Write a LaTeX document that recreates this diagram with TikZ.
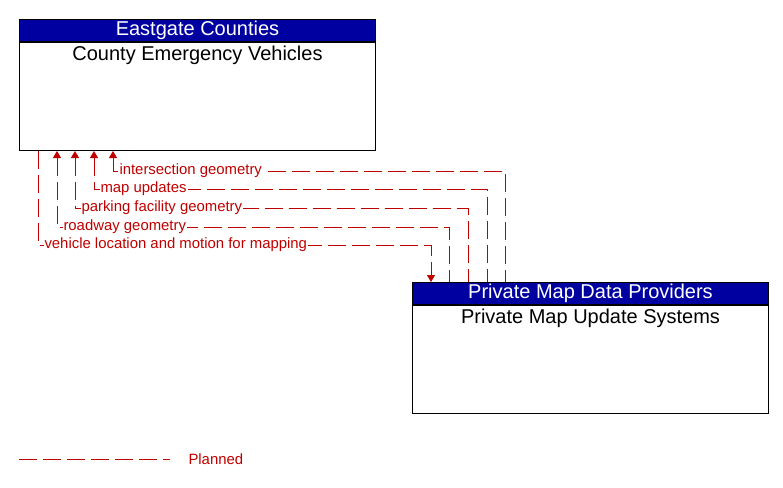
\documentclass[tikz,border=0pt]{standalone}
\usepackage{fontspec}
\setmainfont{Liberation Sans}
\usepackage{tikz}
\usetikzlibrary{calc,positioning,arrows.meta}
\definecolor{flowred}{RGB}{192,0,0}
\definecolor{headblue}{RGB}{0,0,160}
\tikzset{
  header/.style={rectangle,draw=black,line width=1pt,fill=headblue,text=white,minimum width=356pt,minimum height=22pt,inner sep=0pt,font=\fontsize{20}{22}\selectfont},
  bodybox/.style={rectangle,draw=black,line width=1pt,minimum width=356pt,minimum height=108pt,inner sep=0pt},
  title/.style={inner sep=0pt,font=\fontsize{20}{22}\selectfont},
  flow/.style={draw=flowred,line width=1pt,dash pattern=on 18pt off 6pt,>={Triangle[length=7pt,width=8pt]}},
  lbl/.style={anchor=west,xshift=5pt,fill=white,inner sep=1pt,text=flowred,font=\fontsize{14.9}{16}\selectfont}
}
\begin{document}
\begin{tikzpicture}[x=1pt,y=-1pt]
\useasboundingbox (0,0) rectangle (783,487);
% top element
\node (cevhead) [header,anchor=north west] at (19,19) {Eastgate Counties};
\node (cev) [bodybox,below=0pt of cevhead] {};
\node (cevname) [title,below=4pt of cev.north] {County Emergency Vehicles};
% bottom element
\node (pmuhead) [header,anchor=north west] at (412,282) {Private Map Data Providers};
\node (pmu) [bodybox,below=0pt of pmuhead] {};
\node (pmuname) [title,below=4pt of pmu.north] {Private Map Update Systems};
% flows
\draw[flow,->] ($(cev.south west)+(19,0)$) -- ++(0,94) node[lbl] {vehicle location and motion for mapping} -| ($(pmuhead.north west)+(19,0)$);
\draw[flow,<-] ($(cev.south west)+(38,0)$) -- ++(0,76) node[lbl] {roadway geometry} -| ($(pmuhead.north west)+(37,0)$);
\draw[flow,<-] ($(cev.south west)+(56,0)$) -- ++(0,57) node[lbl] {parking facility geometry} -| ($(pmuhead.north west)+(56,0)$);
\draw[flow,<-] ($(cev.south west)+(75,0)$) -- ++(0,38) node[lbl] {map updates} -| ($(pmuhead.north west)+(75,0)$);
\draw[flow,<-] ($(cev.south west)+(94,0)$) -- ++(0,20) node[lbl] {intersection geometry} -| ($(pmuhead.north west)+(93,0)$);
% legend
\coordinate (legstart) at (19,459);
\draw[flow] (legstart) -- ++(151,0) node[lbl,xshift=12pt] {Planned};
\end{tikzpicture}
\end{document}
